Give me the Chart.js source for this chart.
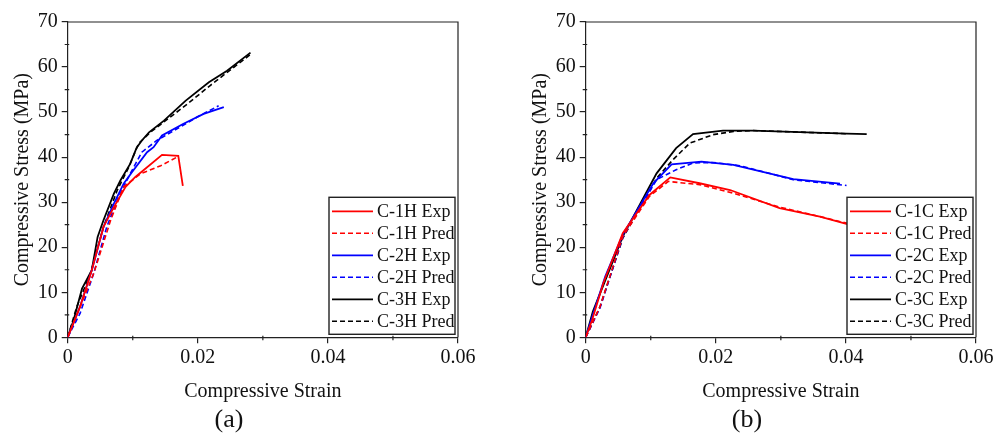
<!DOCTYPE html>
<html>
<head>
<meta charset="utf-8">
<script src="https://cdn.jsdelivr.net/npm/chart.js@4.4.1/dist/chart.umd.min.js"></script>
<style>
  body { margin: 0; background: #fff; }
  canvas { position: absolute; top: 0; }
  #chartA { left: 0; }
  #chartB { left: 518px; }
</style>
</head>
<body>
<canvas id="chartA" width="490" height="436"></canvas>
<canvas id="chartB" width="481" height="436"></canvas>
<script>
// ---- data ----
const xTicks = [0, 0.02, 0.04, 0.06];
const xMinor = [0.01, 0.03, 0.05];
const yTicks = [0, 10, 20, 30, 40, 50, 60, 70];
const yMinor = [5, 15, 25, 35, 45, 55, 65];

// (a)
const c1hExpStrain = [0, 0.0019, 0.0037, 0.0055, 0.0071, 0.0089, 0.0104, 0.0145, 0.0170, 0.0177];
const c1hExpStress = [0, 6.8, 14.9, 24.5, 28.9, 33.4, 35.6, 40.5, 40.3, 33.6];
const c1hPredStrain = [0, 0.0040, 0.0066, 0.0086, 0.0112, 0.0143, 0.0168];
const c1hPredStress = [0, 14.2, 26.0, 33.4, 36.3, 38.1, 40.0];
const c2hExpStrain = [0, 0.0019, 0.0037, 0.0055, 0.0071, 0.0086, 0.0099, 0.0122, 0.0132, 0.0145, 0.0178, 0.0209, 0.0240];
const c2hExpStress = [0, 6.8, 14.9, 24.5, 29.7, 34.1, 36.7, 41.1, 42.2, 44.8, 47.4, 49.6, 51.1];
const c2hPredStrain = [0, 0.0019, 0.0040, 0.0060, 0.0078, 0.0096, 0.0114, 0.0137, 0.0168, 0.0199, 0.0232];
const c2hPredStress = [0, 5.3, 14.2, 24.5, 31.1, 36.3, 41.1, 43.7, 46.3, 48.9, 51.4];
const c3hExpStrain = [0, 0.0009, 0.0022, 0.0037, 0.0046, 0.0055, 0.0071, 0.0081, 0.0096, 0.0106, 0.0114, 0.0125, 0.0148, 0.0181, 0.0217, 0.0245, 0.0281];
const c3hExpStress = [0, 3.8, 10.8, 14.9, 22.3, 26.0, 31.9, 34.8, 38.5, 42.1, 43.7, 45.5, 48.1, 52.5, 56.6, 59.2, 63.2];
const c3hPredStrain = [0, 0.0014, 0.0035, 0.0055, 0.0076, 0.0094, 0.0109, 0.0127, 0.0184, 0.0219, 0.0281];
const c3hPredStress = [0, 6.8, 14.2, 24.5, 32.6, 37.8, 43.0, 45.5, 51.8, 55.9, 62.8];

// (b)
const c1cExpStrain = [0, 0.0010, 0.0027, 0.0057, 0.0098, 0.0130, 0.0175, 0.0222, 0.0298, 0.0360, 0.0405];
const c1cExpStress = [0, 3.9, 12.0, 23.1, 31.6, 35.5, 34.2, 32.7, 28.7, 26.8, 25.0];
const c1cPredStrain = [0, 0.0022, 0.0057, 0.0098, 0.0127, 0.0175, 0.0227, 0.0298, 0.0360, 0.0405];
const c1cPredStress = [0, 6.8, 22.4, 31.3, 34.6, 33.9, 32.0, 28.9, 26.8, 25.2];
const c2cExpStrain = [0, 0.0011, 0.0030, 0.0057, 0.0104, 0.0132, 0.0178, 0.0227, 0.0319, 0.0391];
const c2cExpStress = [0, 5.0, 13.5, 22.8, 34.2, 38.4, 39.0, 38.3, 35.1, 34.1];
const c2cPredStrain = [0, 0.0022, 0.0057, 0.0109, 0.0139, 0.0165, 0.0196, 0.0237, 0.0319, 0.0401];
const c2cPredStress = [0, 6.5, 22.2, 35.0, 37.2, 38.7, 38.8, 38.1, 35.0, 33.7];
const c3cExpStrain = [0, 0.0011, 0.0057, 0.0109, 0.0139, 0.0165, 0.0211, 0.0257, 0.0401, 0.0432];
const c3cExpStress = [0, 5.7, 22.4, 36.4, 42.0, 45.1, 45.9, 45.9, 45.2, 45.1];
const c3cPredStrain = [0, 0.0022, 0.0057, 0.0109, 0.0134, 0.0160, 0.0196, 0.0227, 0.0257, 0.0401];
const c3cPredStress = [0, 6.8, 22.0, 35.3, 39.4, 43.1, 45.0, 45.7, 45.9, 45.2];

const FONT = "'Liberation Serif', 'Times New Roman', serif";
const INK = "#222";
const DASH = [5, 3];

const pts = (xs, ys) => xs.map((x, i) => ({ x: x, y: ys[i] }));

const series = (label, xs, ys, color, dashed) => ({
  label: label,
  data: pts(xs, ys),
  borderColor: color,
  backgroundColor: color,
  borderWidth: dashed ? 1.6 : 1.8,
  borderDash: dashed ? DASH : [],
  pointRadius: 0,
  tension: 0,
  fill: false,
});

// top/right frame, minor ticks and the boxed legend
const framePlugin = {
  id: "frameLegend",
  afterDatasetsDraw(chart) {
    const { ctx, chartArea: a, scales } = chart;
    const x = scales.x;
    const y = scales.y;
    ctx.save();
    ctx.strokeStyle = INK;
    ctx.lineWidth = 1.2;
    ctx.setLineDash([]);
    ctx.beginPath();
    ctx.moveTo(a.left, a.top);
    ctx.lineTo(a.right, a.top);
    ctx.lineTo(a.right, a.bottom);
    xMinor.forEach((v) => {
      const px = x.getPixelForValue(v);
      ctx.moveTo(px, a.bottom - 1.5);
      ctx.lineTo(px, a.bottom + 3);
    });
    yMinor.forEach((v) => {
      const py = y.getPixelForValue(v);
      ctx.moveTo(a.left - 3, py);
      ctx.lineTo(a.left + 1.5, py);
    });
    ctx.stroke();

    // legend box
    const w = 126, h = 137;
    const bx = a.right - 3 - w;
    const by = a.bottom - 3 - h;
    ctx.fillStyle = "#fff";
    ctx.fillRect(bx, by, w, h);
    ctx.lineWidth = 1.4;
    ctx.strokeRect(bx, by, w, h);
    ctx.font = "18px " + FONT;
    ctx.textBaseline = "middle";
    ctx.textAlign = "left";
    chart.data.datasets.forEach((ds, i) => {
      const ry = by + 14 + i * 22;
      ctx.strokeStyle = ds.borderColor;
      ctx.lineWidth = ds.borderWidth;
      ctx.setLineDash(ds.borderDash);
      ctx.beginPath();
      ctx.moveTo(bx + 3, ry);
      ctx.lineTo(bx + 44, ry);
      ctx.stroke();
      ctx.setLineDash([]);
      ctx.fillStyle = "#111";
      ctx.fillText(ds.label, bx + 48, ry + 1);
    });
    ctx.restore();
  },
};

const makeChart = (id, datasets, panel, rightPad) => {
  const ctx = document.getElementById(id).getContext("2d");
  return new Chart(ctx, {
    type: "line",
    data: { datasets: datasets },
    options: {
      responsive: false,
      animation: false,
      devicePixelRatio: 1,
      layout: { padding: { top: 22, right: rightPad, left: 0, bottom: 0 } },
      plugins: {
        legend: { display: false },
        tooltip: { enabled: false },
        title: {
          display: true,
          text: panel,
          position: "bottom",
          color: "#111",
          font: { family: FONT, size: 26, weight: "normal" },
          padding: 0,
        },
      },
      scales: {
        x: {
          type: "linear",
          min: 0,
          max: 0.06,
          afterBuildTicks: (s) => { s.ticks = xTicks.map((v) => ({ value: v })); },
          afterFit: (s) => { s.height = 67.5; },
          ticks: {
            color: "#111",
            padding: 2,
            font: { family: FONT, size: 20 },
            callback: (v) => (v === 0 ? "0" : String(v)),
          },
          grid: { drawOnChartArea: false, drawTicks: true, tickLength: 6, color: INK, lineWidth: 1.2 },
          border: { display: true, color: INK, width: 1.2 },
          title: {
            display: true,
            text: "Compressive Strain",
            color: "#111",
            font: { family: FONT, size: 20 },
            padding: { top: 0, bottom: 1 },
          },
        },
        y: {
          type: "linear",
          min: 0,
          max: 70,
          afterBuildTicks: (s) => { s.ticks = yTicks.map((v) => ({ value: v })); },
          afterFit: (s) => { s.width = 67.7; },
          ticks: {
            color: "#111",
            padding: 4,
            font: { family: FONT, size: 20 },
          },
          grid: { drawOnChartArea: false, drawTicks: true, tickLength: 6, color: INK, lineWidth: 1.2 },
          border: { display: true, color: INK, width: 1.2 },
          title: {
            display: true,
            text: "Compressive Stress (MPa)",
            color: "#111",
            font: { family: FONT, size: 20 },
            padding: { top: 11, bottom: 0 },
          },
        },
      },
    },
    plugins: [framePlugin],
  });
};

makeChart("chartA", [
  series("C-1H Exp", c1hExpStrain, c1hExpStress, "#ff0000", false),
  series("C-1H Pred", c1hPredStrain, c1hPredStress, "#ff0000", true),
  series("C-2H Exp", c2hExpStrain, c2hExpStress, "#0000ff", false),
  series("C-2H Pred", c2hPredStrain, c2hPredStress, "#0000ff", true),
  series("C-3H Exp", c3hExpStrain, c3hExpStress, "#000000", false),
  series("C-3H Pred", c3hPredStrain, c3hPredStress, "#000000", true),
], "(a)", 32);

makeChart("chartB", [
  series("C-1C Exp", c1cExpStrain, c1cExpStress, "#ff0000", false),
  series("C-1C Pred", c1cPredStrain, c1cPredStress, "#ff0000", true),
  series("C-2C Exp", c2cExpStrain, c2cExpStress, "#0000ff", false),
  series("C-2C Pred", c2cPredStrain, c2cPredStress, "#0000ff", true),
  series("C-3C Exp", c3cExpStrain, c3cExpStress, "#000000", false),
  series("C-3C Pred", c3cPredStrain, c3cPredStress, "#000000", true),
], "(b)", 23);
</script>
</body>
</html>
